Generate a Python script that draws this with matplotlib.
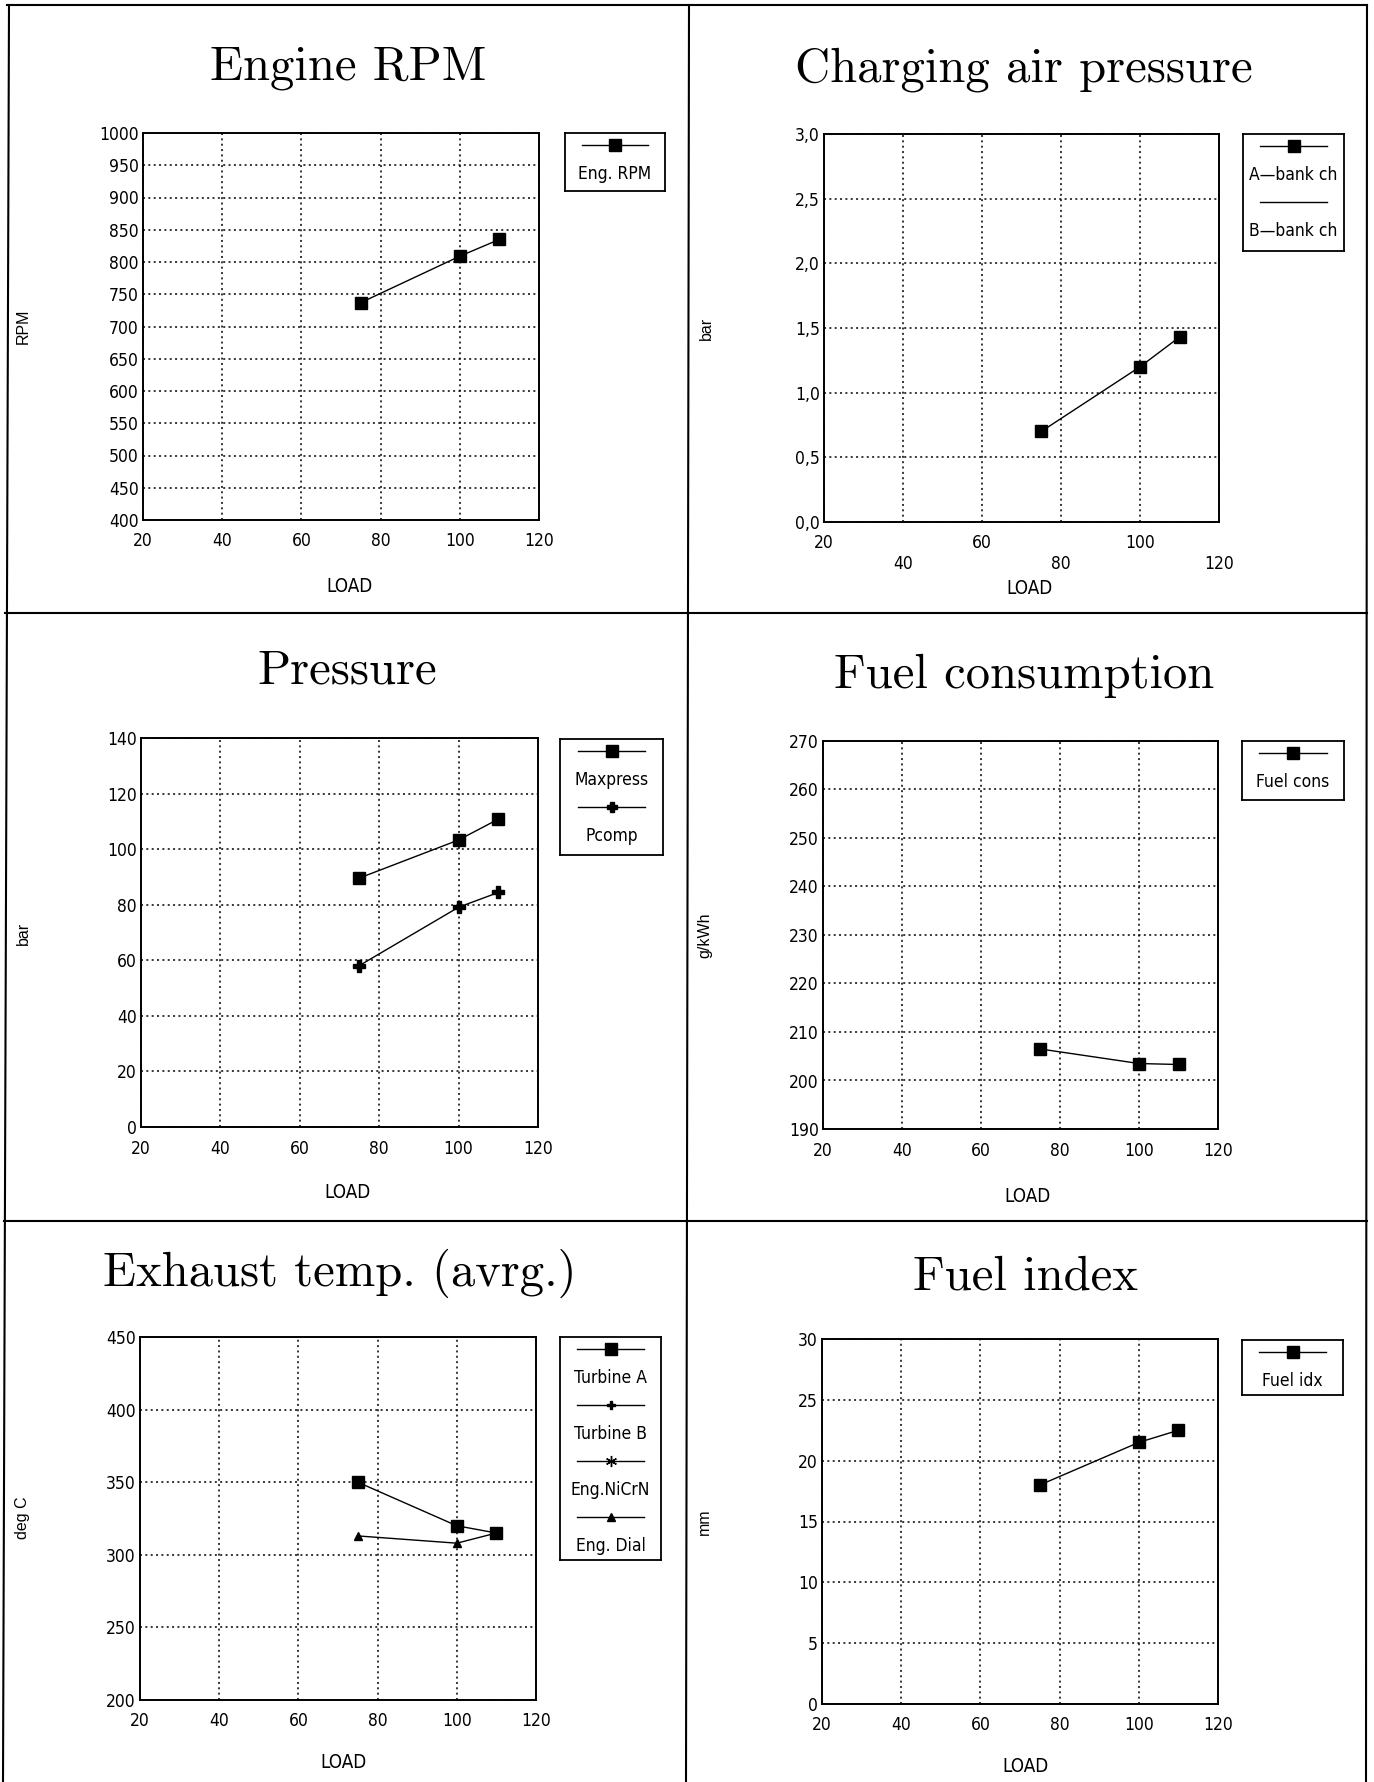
import matplotlib
matplotlib.use("Agg")
import matplotlib.pyplot as plt
from matplotlib import font_manager
from matplotlib.font_manager import FontProperties
from matplotlib.lines import Line2D

W, H = 1374, 1782

# fonts: a condensed sans for numbers and legends, serif for titles
cands = []
for f in font_manager.fontManager.ttflist:
    narrowish = (f.stretch in ("condensed", "semi-condensed", "extra-condensed")
                 or "Narrow" in f.name or "Condensed" in f.name)
    if narrowish and f.style == "normal" and f.weight in (400, "normal", "regular"):
        cands.append(f)
cands.sort(key=lambda f: ("Liberation" not in f.name, "DejaVu Sans" != f.name, f.name))
narrow_path = cands[0].fname if cands else None


def nfont(size):
    if narrow_path:
        return FontProperties(fname=narrow_path, size=size)
    return FontProperties(family="DejaVu Sans", stretch="condensed", size=size)


plain = "Liberation Sans"
serif = "cmr10"

# data
load = [75, 100, 110]
rpm = [737, 809, 835]
charge_a = [0.70, 1.20, 1.43]
maxpress = [89.6, 103.3, 110.8]
pcomp = [58.1, 79.1, 84.4]
fuel_cons = [206.5, 203.5, 203.3]
turbine_a = [350, 320, 315]
eng_dial = [313, 308, 315]
fuel_idx = [18.0, 21.5, 22.5]

x_ticks = [20, 40, 60, 80, 100, 120]
rpm_ticks = list(range(400, 1001, 50))
charge_ticks = [0.0, 0.5, 1.0, 1.5, 2.0, 2.5, 3.0]
press_ticks = list(range(0, 141, 20))
cons_ticks = list(range(190, 271, 10))
temp_ticks = list(range(200, 451, 50))
idx_ticks = list(range(0, 31, 5))

fig = plt.figure(figsize=(W / 100, H / 100), dpi=100)


def px_rect(x0, y0, x1, y1):
    return [x0 / W, 1 - y1 / H, (x1 - x0) / W, (y1 - y0) / H]


def make_axes(box, yticks, ylabels=None, xlabels=None):
    ax = fig.add_axes(px_rect(*box))
    ax.set_xlim(x_ticks[0], x_ticks[-1])
    ax.set_ylim(yticks[0], yticks[-1])
    ax.set_xticks(x_ticks)
    ax.set_yticks(yticks)
    ax.set_xticklabels(xlabels if xlabels else [str(t) for t in x_ticks])
    if ylabels:
        ax.set_yticklabels(ylabels)
    ax.tick_params(length=0)
    ax.tick_params(axis="x", pad=9)
    ax.tick_params(axis="y", pad=3)
    for lab in ax.get_xticklabels() + ax.get_yticklabels():
        lab.set_fontproperties(nfont(12.5))
    ax.grid(True, color="black", linestyle=(0, (1.3, 2.2)), linewidth=1.1)
    for s in ax.spines.values():
        s.set_linewidth(1.4)
    return ax


def legend_box(box, entries):
    x0, y0, x1, y1 = box
    w, h = x1 - x0, y1 - y0
    lax = fig.add_axes(px_rect(*box))
    lax.set_xlim(0, w)
    lax.set_ylim(h, 0)
    lax.set_xticks([])
    lax.set_yticks([])
    for s in lax.spines.values():
        s.set_linewidth(1.3)
    for i, (label, marker, ms) in enumerate(entries):
        yl = 12 + 56 * i
        lax.plot([0.17 * w, 0.83 * w], [yl, yl], color="black", lw=1)
        lax.plot([0.5 * w], [yl], marker=marker, ms=ms, color="black", ls="none")
        lax.text(w / 2, yl + 29, label, ha="center", va="center",
                 fontproperties=nfont(12.5))


def labels(title, tpos, ylab, ypos, lpos):
    fig.text(tpos[0] / W, 1 - tpos[1] / H, title, ha="center", va="baseline",
             fontsize=35, family=serif)
    fig.text(ypos[0] / W, 1 - ypos[1] / H, ylab, ha="center", va="center",
             rotation=90, fontsize=11.5, family=plain)
    fig.text(lpos[0] / W, 1 - lpos[1] / H, "LOAD", ha="center", va="center",
             fontproperties=nfont(13.5))


# Engine RPM
ax = make_axes((143, 133, 539, 520), rpm_ticks)
ax.plot(load, rpm, color="black", lw=1, marker="s", ms=9)
legend_box((565, 133, 665, 191), [("Eng. RPM", "s", 8)])
labels("Engine RPM", (348, 80), "RPM", (23, 326), (349, 586))

# Charging air pressure
stagger = [str(t) if i % 2 == 0 else "\n" + str(t) for i, t in enumerate(x_ticks)]
ax = make_axes((824, 134, 1219, 522), charge_ticks,
               ylabels=[f"{t:.1f}".replace(".", ",") for t in charge_ticks],
               xlabels=stagger)
ax.plot(load, charge_a, color="black", lw=1, marker="s", ms=9)
legend_box((1243, 134, 1344, 251), [("A\u2014bank ch", "s", 8), ("B\u2014bank ch", "none", 0)])
labels("Charging air pressure", (1024, 82), "bar", (706, 328), (1030, 589))

# Pressure
ax = make_axes((141, 738, 538, 1127), press_ticks)
ax.plot(load, maxpress, color="black", lw=1, marker="s", ms=9)
ax.plot(load, pcomp, color="black", lw=1, marker="P", ms=9)
legend_box((560, 739, 663, 855), [("Maxpress", "s", 8), ("Pcomp", "P", 7)])
labels("Pressure", (347, 684), "bar", (23, 933), (347, 1192))

# Fuel consumption
ax = make_axes((823, 741, 1218, 1129), cons_ticks)
ax.plot(load, fuel_cons, color="black", lw=1, marker="s", ms=9)
legend_box((1242, 741, 1344, 800), [("Fuel cons", "s", 8)])
labels("Fuel consumption", (1024, 688), "g/kWh", (705, 935), (1027, 1196))

# Exhaust temp
ax = make_axes((140, 1337, 536, 1700), temp_ticks)
ax.plot(load, turbine_a, color="black", lw=1, marker="s", ms=9)
ax.plot(load, eng_dial, color="black", lw=1, marker="^", ms=6)
legend_box((560, 1337, 661, 1560), [("Turbine A", "s", 8), ("Turbine B", "P", 6),
                                    ("Eng.NiCrN", (6, 2, 0), 8), ("Eng. Dial", "^", 6)])
labels("Exhaust temp. (avrg.)", (340, 1286), "deg C", (23, 1518), (344, 1763))

# Fuel index
ax = make_axes((822, 1339, 1218, 1704), idx_ticks)
ax.plot(load, fuel_idx, color="black", lw=1, marker="s", ms=9)
legend_box((1242, 1340, 1343, 1395), [("Fuel idx", "s", 8)])
labels("Fuel index", (1025, 1289), "mm", (704, 1522), (1026, 1766))

# page frame around the six panels
frame = [((9, 5), (3, 1782)), ((1367, 5), (1366, 1782)), ((689, 5), (686, 1782)),
         ((7, 5), (1367, 5)), ((5, 613), (1367, 613)), ((4, 1221), (1367, 1221))]
for (xa, ya), (xb, yb) in frame:
    fig.add_artist(Line2D([xa / W, xb / W], [1 - ya / H, 1 - yb / H],
                          transform=fig.transFigure, color="black", lw=1.5))

fig.savefig("out.png", dpi=100, facecolor="white")
